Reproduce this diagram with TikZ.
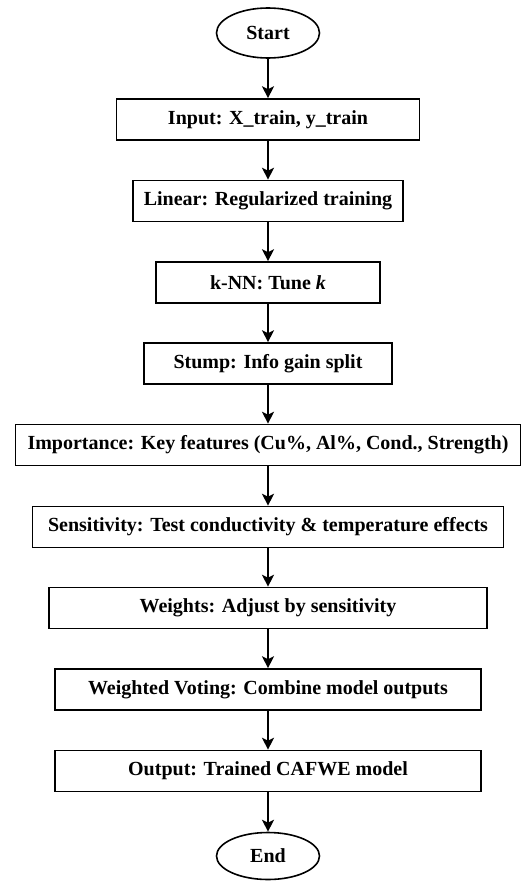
\documentclass[tikz,border=0pt]{standalone}
\usepackage{fontspec}
\setmainfont{Liberation Serif}
\usetikzlibrary{shapes.geometric,arrows.meta}
\begin{document}
\begin{tikzpicture}[x=1pt,y=-1pt,
  every node/.style={font=\fontsize{20}{24}\selectfont\bfseries, inner sep=0pt, line width=1.6pt, draw=black},
  procbox/.style={rectangle, minimum height=41pt},
  termnode/.style={ellipse, minimum width=103pt, minimum height=50pt},
  flow/.style={line width=1.6pt, -{Stealth[length=12pt,width=12pt,inset=3pt]}}]
\useasboundingbox (0,0) rectangle (521,881);
\node[termnode] (start) at (268,33) {Start};
\node[procbox, minimum width=303pt] (input) at (268,119.5) {Input: X\_train, y\_train};
\node[procbox, minimum width=270pt] (linear) at (268,201) {Linear: Regularized training};
\node[procbox, minimum width=224pt] (knn) at (268,282.5) {k-NN: Tune \textit{k}};
\node[procbox, minimum width=248pt] (stump) at (268,363.5) {Stump: Info gain split};
\node[procbox, minimum width=505pt] (imp) at (268,445) {Importance: Key features (Cu\%, Al\%, Cond., Strength)};
\node[procbox, minimum width=471pt] (sens) at (268,527) {Sensitivity: Test conductivity \& temperature effects};
\node[procbox, minimum width=438pt] (wts) at (268,608) {Weights: Adjust by sensitivity};
\node[procbox, minimum width=426pt] (vote) at (268,689.5) {Weighted Voting: Combine model outputs};
\node[procbox, minimum width=426pt] (out) at (268,771) {Output: Trained CAFWE model};
\node[termnode, minimum height=47pt] (end) at (268,856) {End};
\draw[flow] (start.south) -- (input.north);
\draw[flow] (input.south) -- (linear.north);
\draw[flow] (linear.south) -- (knn.north);
\draw[flow] (knn.south) -- (stump.north);
\draw[flow] (stump.south) -- (imp.north);
\draw[flow] (imp.south) -- (sens.north);
\draw[flow] (sens.south) -- (wts.north);
\draw[flow] (wts.south) -- (vote.north);
\draw[flow] (vote.south) -- (out.north);
\draw[flow] (out.south) -- (end.north);
\end{tikzpicture}
\end{document}
